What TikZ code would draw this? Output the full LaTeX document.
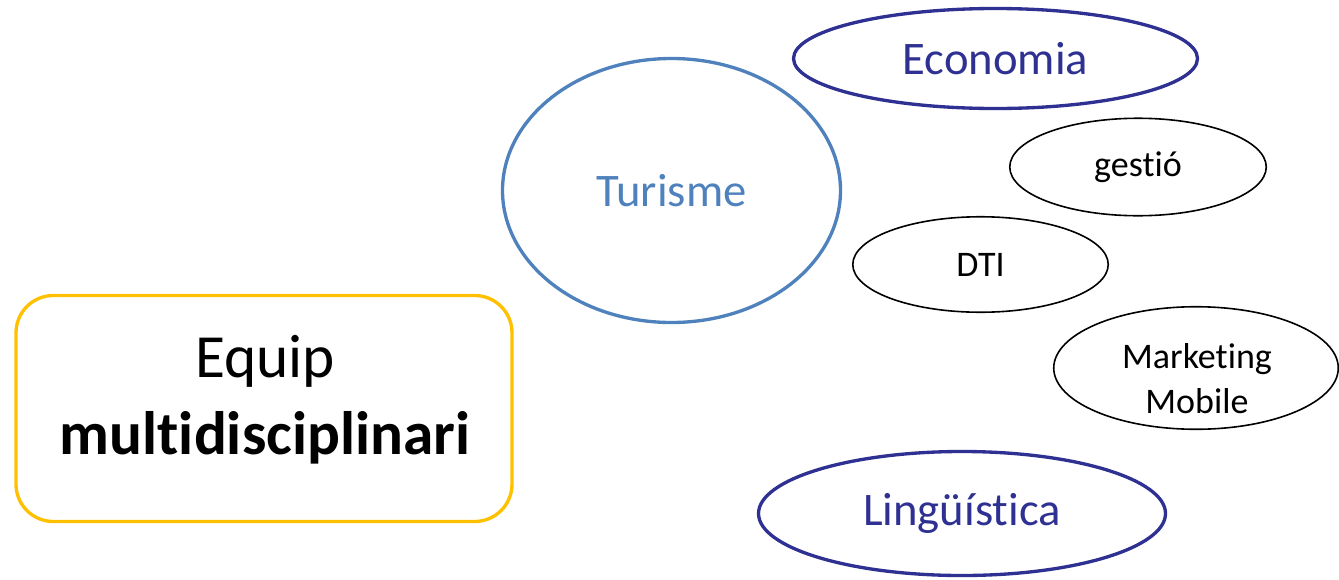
\documentclass[tikz,border=0pt]{standalone}
\usepackage{fontspec}
\setmainfont{Carlito}
\usepackage{xcolor}
\usepackage{tikz}
\usetikzlibrary{shapes.geometric}
\definecolor{teamyellow}{HTML}{FFC000}
\definecolor{turblue}{HTML}{4F81BD}
\definecolor{deepblue}{HTML}{2E3192}
% trenca el lligam "ti" de Carlito
\newcommand{\tbrk}{t\kern0pt }
\tikzset{
  teambox/.style={rectangle, rounded corners=28pt, draw=teamyellow, line width=2.5pt, inner sep=0pt, minimum width=372pt, minimum height=169.5pt},
  teamtext/.style={align=center, inner sep=0pt, font=\fontsize{46}{58}\selectfont},
  areamain/.style={ellipse, draw=turblue, line width=2.5pt, text=turblue, inner sep=0pt, font=\fontsize{35}{42}\selectfont},
  areawide/.style={ellipse, draw=deepblue, line width=2.5pt, text=deepblue, inner sep=0pt, font=\fontsize{35}{42}\selectfont},
  areasmall/.style={ellipse, draw=black, line width=1.2pt, align=center, inner sep=0pt, font=\fontsize{27}{33.75}\selectfont},
  smalltext/.style={align=center, inner sep=0pt, font=\fontsize{27}{33.75}\selectfont}
}
\begin{document}
\begin{tikzpicture}[x=0.75pt,y=-0.75pt]
\useasboundingbox (0,0) rectangle (1339,579);
% equip
\node[teambox] (team) at (264,408.5) {};
\node[teamtext] (teamlbl) at (265,400) {Equip\\\textbf{mul\tbrk idisciplinari}};
% camps
\node[areamain, minimum width=253.5pt, minimum height=198pt] (tur) at (671.5,190.5) {Turisme};
\node[areawide, minimum width=303pt, minimum height=75pt] (eco) at (995.5,58.5) {Economia};
\node[areawide, minimum width=305.25pt, minimum height=93pt] (ling) at (962,513.5) {Lingüís\tbrk ica};
\node[areasmall, minimum width=192.4pt, minimum height=73.1pt] (gest) at (1138,167) {ges\tbrk ió};
\node[areasmall, minimum width=191.6pt, minimum height=71.6pt] (dti) at (980.5,264.5) {DTI};
\node[areasmall, minimum width=213.4pt, minimum height=91.9pt] (mkt) at (1196,368) {};
\node[smalltext] (mktlbl) at (1197,379) {Marke\tbrk ing\\Mobile};
\end{tikzpicture}
\end{document}
